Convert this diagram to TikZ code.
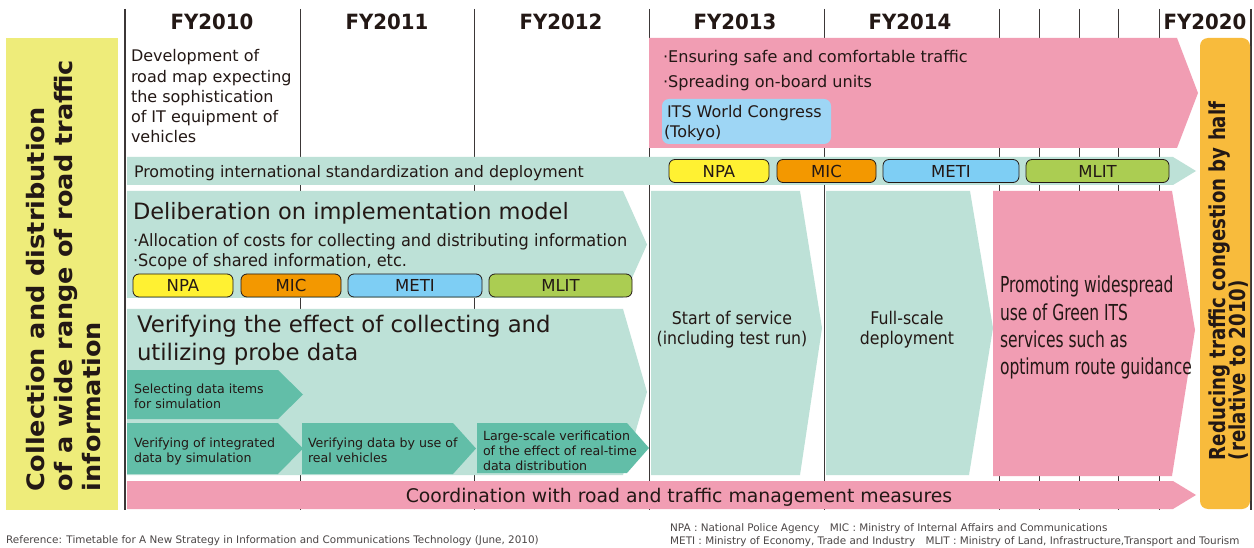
\documentclass[tikz,border=0pt]{standalone}
\usepackage{fontspec}
\setmainfont{DejaVu Sans}
\usepackage{graphicx}

\definecolor{ink}{RGB}{35,24,21}
\definecolor{gridK}{RGB}{60,55,55}
\definecolor{tealL}{RGB}{189,225,215}
\definecolor{tealD}{RGB}{98,190,168}
\definecolor{pinkR}{RGB}{241,157,179}
\definecolor{lemon}{RGB}{238,236,122}
\definecolor{amber}{RGB}{248,187,60}
\definecolor{skyL}{RGB}{158,214,245}
\definecolor{npaY}{RGB}{255,241,50}
\definecolor{micO}{RGB}{243,152,0}
\definecolor{metiB}{RGB}{126,206,244}
\definecolor{mlitG}{RGB}{171,205,82}
\definecolor{noteK}{RGB}{75,70,70}

% font size shortcut and horizontal squeeze/stretch of a text
\newcommand\fz[1]{\fontsize{#1}{#1}\selectfont}
\newcommand\hsc[2]{\scalebox{#1}[1]{#2}}

\begin{document}
\begin{tikzpicture}[x=1pt,y=-1pt,
  txt/.style={text=ink, inner sep=0pt, outer sep=0pt},
  lft/.style={txt, anchor=base west},
  ctr/.style={txt, anchor=base},
  hdr/.style={txt, anchor=base, font=\bfseries\fz{21}},
  agency/.style={draw=ink, line width=0.8pt, rounded corners=6pt,
    minimum height=23pt, inner sep=0pt, text=ink, font=\fz{16.5}},
  gridline/.style={draw=gridK, line width=0.9pt},
  edgeline/.style={draw=gridK, line width=1.3pt},
  note/.style={text=noteK, inner sep=0pt, anchor=base west, font=\fz{10.4}},
]
\useasboundingbox (0,0) rectangle (1254,548);
\fill[white] (0,0) rectangle (1254,548);

% year grid
\foreach \gx in {300,474,649,824,999,1039,1079,1118,1159}
  \draw[gridline] (\gx,9) -- (\gx,510);
\draw[edgeline] (125,9) -- (125,510);
\draw[edgeline] (1251,9) -- (1251,510);

% year headings
\node[hdr] (fy10) at (212,30) {\hsc{0.94}{FY2010}};
\node[hdr] (fy11) at (387,30) {\hsc{0.94}{FY2011}};
\node[hdr] (fy12) at (561,30) {\hsc{0.94}{FY2012}};
\node[hdr] (fy13) at (735,30) {\hsc{0.94}{FY2013}};
\node[hdr] (fy14) at (910,30) {\hsc{0.94}{FY2014}};
\node[hdr] (fy20) at (1205,30) {\hsc{0.94}{FY2020}};

% theme on the left
\fill[lemon] (6,38) rectangle (118,510);
\begin{scope}[every node/.style={lft, rotate=90, font=\bfseries\fz{24}}]
  \node (themeA) at (45,491) {\hsc{1.065}{Collection and distribution}};
  \node (themeB) at (72.5,491) {\hsc{1.065}{of a wide range of road traffic}};
  \node (themeC) at (100,491) {\hsc{1.065}{information}};
\end{scope}

% goal on the right
\fill[amber, rounded corners=8pt] (1200,38) rectangle (1250,509);
\begin{scope}[every node/.style={lft, rotate=90, font=\bfseries\fz{22}}]
  \node (goalA) at (1225,460) {\hsc{0.826}{Reducing traffic congestion by half}};
  \node (goalB) at (1245,460) {\hsc{0.826}{(relative to 2010)}};
\end{scope}

% road map note, FY2010
\begin{scope}[every node/.style={lft, font=\fz{16}}]
  \node (mapA) at (131,62) {Development of};
  \node (mapB) at (131,82.2) {road map expecting};
  \node (mapC) at (131,102.4) {the sophistication};
  \node (mapD) at (131,122.6) {of IT equipment of};
  \node (mapE) at (131,142.8) {vehicles};
\end{scope}

% safe and comfortable traffic, from FY2013
\fill[pinkR] (649,38) -- (1177,38) -- (1198,93) -- (1177,148) -- (649,148) -- cycle;
\node[lft, font=\fz{16.1}] (safe) at (663,63) {·Ensuring safe and comfortable traffic};
\node[lft, font=\fz{16.1}] (units) at (663,88) {·Spreading on-board units};
\fill[skyL, rounded corners=7pt] (662,99) rectangle (831,144);
\node[lft, font=\fz{16}] (itsA) at (667,118) {ITS World Congress};
\node[lft, font=\fz{16}] (itsB) at (664,137.5) {(Tokyo)};

% international standardization
\fill[tealL] (127,157) -- (1173,157) -- (1196,171) -- (1173,185) -- (127,185) -- cycle;
\node[lft, font=\fz{15.85}] (intl) at (134,178) {Promoting international standardization and deployment};
\node[agency, fill=npaY, minimum width=100pt] (npaT) at (719,171) {NPA};
\node[agency, fill=micO, minimum width=99pt] (micT) at (826.5,171) {MIC};
\node[agency, fill=metiB, minimum width=136pt] (metiT) at (951,171) {METI};
\node[agency, fill=mlitG, minimum width=143pt] (mlitT) at (1097.5,171) {MLIT};

% implementation model
\fill[tealL] (127,191) -- (623,191) -- (647,244.5) -- (623,298) -- (127,298) -- cycle;
\node[lft, font=\fz{22.5}] (delib) at (133,220) {Deliberation on implementation model};
\node[lft, font=\fz{17}] (costs) at (133,247) {\hsc{0.95}{·Allocation of costs for collecting and distributing information}};
\node[lft, font=\fz{17}] (scope) at (133,267) {\hsc{0.95}{·Scope of shared information, etc.}};
\node[agency, fill=npaY, minimum width=100pt] (npaD) at (183,285.5) {NPA};
\node[agency, fill=micO, minimum width=100pt] (micD) at (291,285.5) {MIC};
\node[agency, fill=metiB, minimum width=134pt] (metiD) at (415,285.5) {METI};
\node[agency, fill=mlitG, minimum width=143pt] (mlitD) at (560.5,285.5) {MLIT};

% probe data verification
\fill[tealL] (127,309) -- (623,309) -- (647,392) -- (623,475) -- (127,475) -- cycle;
\node[lft, font=\fz{22.8}] (probeA) at (137,333) {Verifying the effect of collecting and};
\node[lft, font=\fz{22.8}] (probeB) at (137,360) {utilizing probe data};

\fill[tealD] (127,370) -- (278,370) -- (303,394.5) -- (278,419) -- (127,419) -- cycle;
\fill[tealD] (127,423) -- (278,423) -- (303,448.5) -- (278,474) -- (127,474) -- cycle;
\fill[tealD] (302,423) -- (453,423) -- (476,448.5) -- (453,474) -- (302,474) -- cycle;
\fill[tealD] (477,423) -- (627,423) -- (649,448) -- (627,473) -- (477,473) -- cycle;
\begin{scope}[every node/.style={lft, font=\fz{12.6}}]
  \node (selA) at (134,393) {Selecting data items};
  \node (selB) at (134,408) {for simulation};
  \node (simA) at (134,447) {Verifying of integrated};
  \node (simB) at (134,462) {data by simulation};
  \node (vehA) at (308,447) {Verifying data by use of};
  \node (vehB) at (308,462) {real vehicles};
  \node (bigA) at (483,440) {Large-scale verification};
  \node (bigB) at (483,455) {of the effect of real-time};
  \node (bigC) at (483,470) {data distribution};
\end{scope}

% service stages
\fill[tealL] (651,191) -- (800,191) -- (822,328) -- (800,475) -- (651,475) -- cycle;
\fill[tealL] (826,191) -- (970,191) -- (993,328) -- (969,475) -- (826,475) -- cycle;
\fill[pinkR] (993,191) -- (1172,191) -- (1195,330) -- (1172,476) -- (993,476) -- cycle;
\begin{scope}[every node/.style={ctr, font=\fz{17.5}}]
  \node (startA) at (732,325) {\hsc{0.9}{Start of service}};
  \node (startB) at (732,344.5) {\hsc{0.9}{(including test run)}};
  \node (fullA) at (907,325) {\hsc{0.9}{Full-scale}};
  \node (fullB) at (907,344.5) {\hsc{0.9}{deployment}};
\end{scope}
\begin{scope}[every node/.style={lft, font=\fz{22}}]
  \node (greenA) at (1000,293) {\hsc{0.705}{Promoting widespread}};
  \node (greenB) at (1000,320) {\hsc{0.705}{use of Green ITS}};
  \node (greenC) at (1000,347) {\hsc{0.705}{services such as}};
  \node (greenD) at (1000,374) {\hsc{0.705}{optimum route guidance}};
\end{scope}

% road and traffic management
\fill[pinkR] (127,481) -- (1173,481) -- (1196,495) -- (1173,509) -- (127,509) -- cycle;
\node[ctr, font=\fz{18.8}] (coord) at (679,502) {Coordination with road and traffic management measures};

% footnotes
\node[note] (refnote) at (6,543) {Reference: Timetable for A New Strategy in Information and Communications Technology (June, 2010)};
\node[note] (abbrA) at (670,531) {NPA : National Police Agency\quad MIC : Ministry of Internal Affairs and Communications};
\node[note] (abbrB) at (670,544) {METI : Ministry of Economy, Trade and Industry\quad MLIT : Ministry of Land, Infrastructure,Transport and Tourism};
\end{tikzpicture}
\end{document}
